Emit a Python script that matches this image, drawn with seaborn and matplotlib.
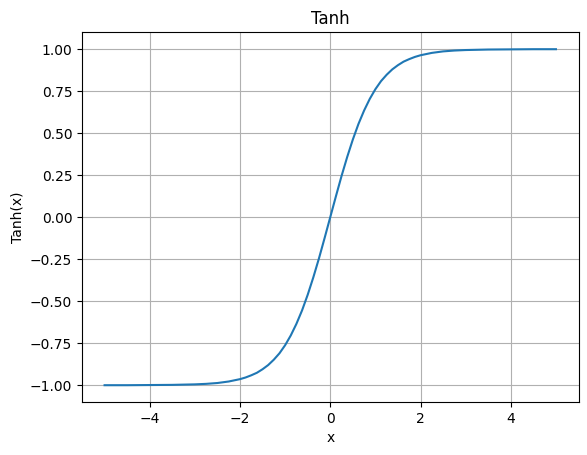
import matplotlib
matplotlib.use("Agg")
from matplotlib import pyplot as plt
import seaborn as sns
import pandas as pd

#### DATA ####
x_pos = [0.0, 0.125, 0.25, 0.375, 0.5, 0.625, 0.75, 0.875, 1.0, 1.125, 1.25,
         1.375, 1.5, 1.625, 1.75, 1.875, 2.0, 2.25, 2.5, 2.75, 3.0, 3.5,
         4.0, 4.5, 5.0]
y_pos = [0.000, 0.124, 0.245, 0.358, 0.462, 0.555, 0.635, 0.704, 0.762,
         0.810, 0.848, 0.880, 0.905, 0.926, 0.941, 0.954, 0.964, 0.978,
         0.987, 0.992, 0.995, 0.998, 0.999, 1.000, 1.000]

# curve is point-symmetric about the origin
x_vals = [-v for v in x_pos[:0:-1]] + x_pos
y_vals = [-v for v in y_pos[:0:-1]] + y_pos

df = pd.DataFrame({'x': x_vals, 'y': y_vals})

#### PLOT ####
fig = plt.figure(figsize=(5.87, 4.55), dpi=100)
ax = fig.add_axes([82/587, 53/455, 496.5/587, 369.6/455])
sns.lineplot(data=df, x='x', y='y', ax=ax, color='#1f77b4', linewidth=1.5)
ax.set_title('Tanh')
ax.set_xlabel('x')
ax.set_ylabel('Tanh(x)')
ax.grid(True)
fig.savefig('out.png', dpi=100)
